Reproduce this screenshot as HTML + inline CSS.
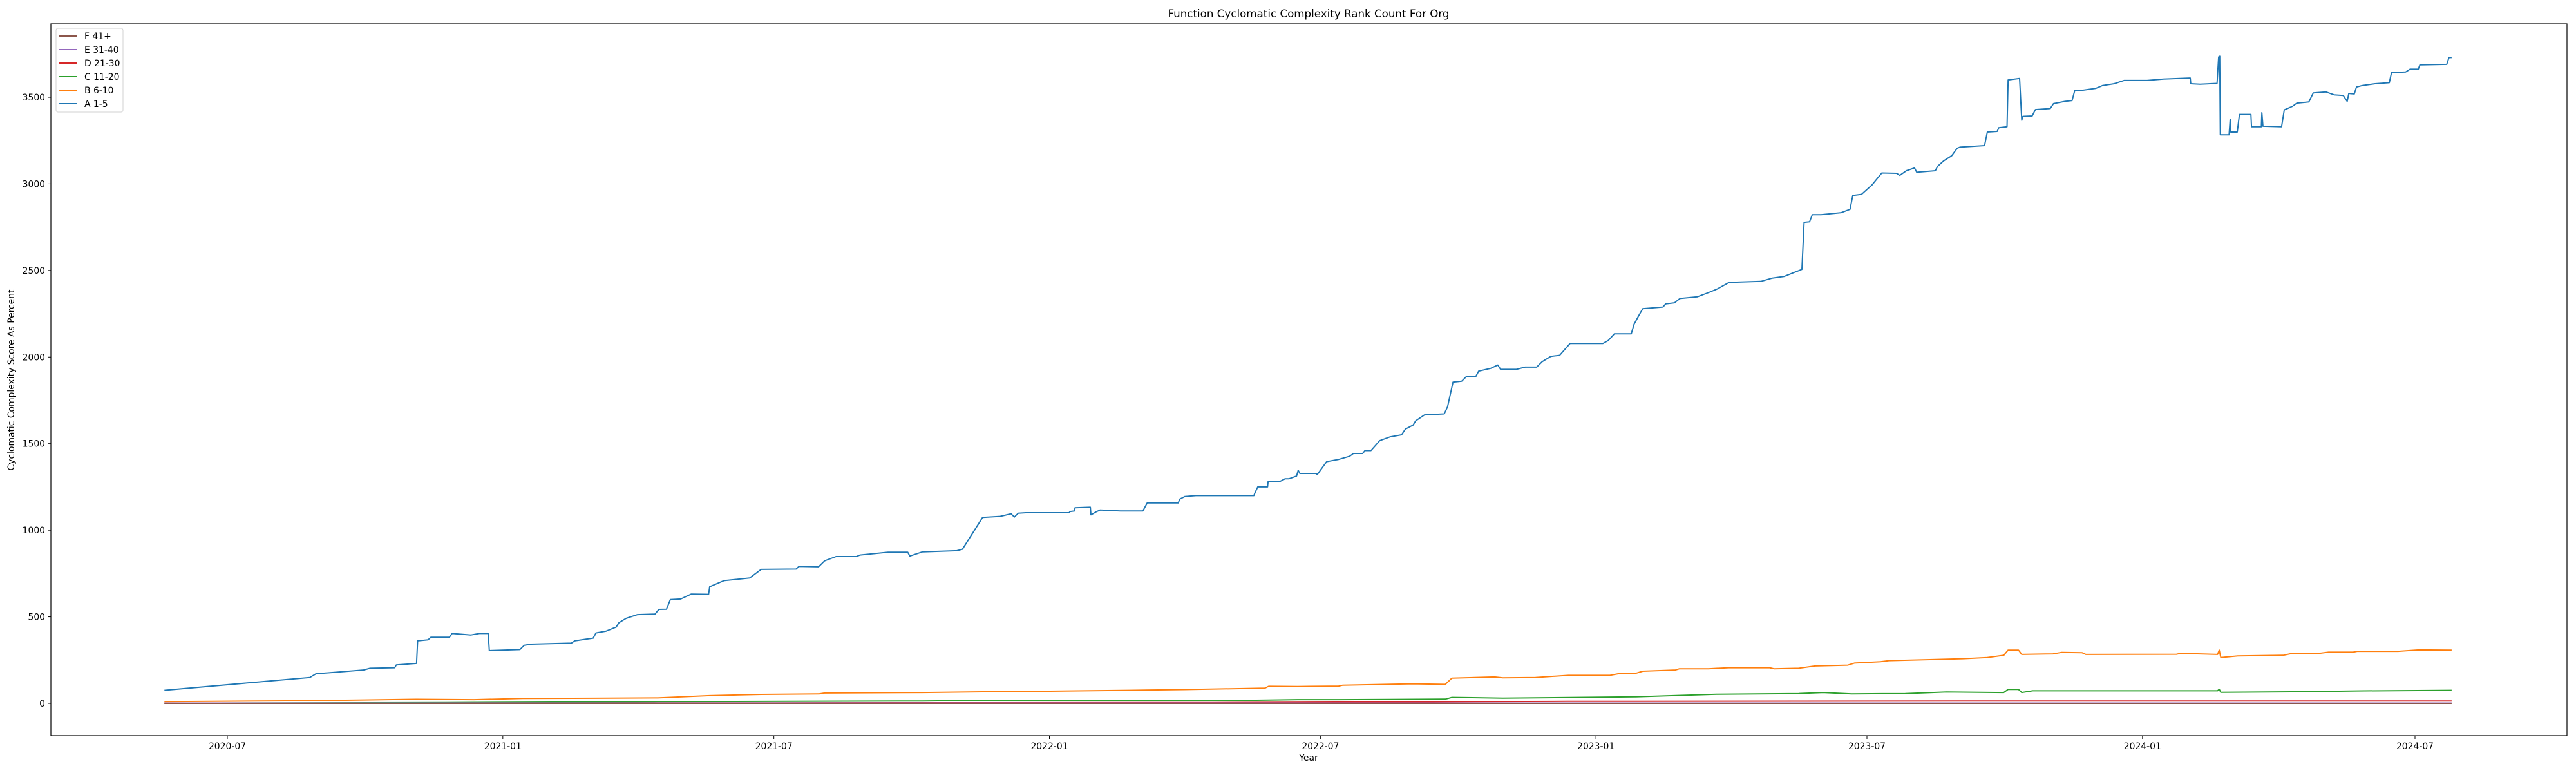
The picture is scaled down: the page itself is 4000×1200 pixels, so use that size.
<!DOCTYPE html>
<html><head><meta charset="utf-8"><style>
html,body{margin:0;padding:0;background:#fff;}
svg{display:block;font-family:"DejaVu Sans","Liberation Sans",sans-serif;}
</style></head><body>
<svg id="chart" width="4000" height="1200" xmlns="http://www.w3.org/2000/svg">
<rect width="4000" height="1200" fill="#fff"/>
<text x="2032" y="27" font-size="16.7" text-anchor="middle">Function Cyclomatic Complexity Rank Count For Org</text>
<text x="2032" y="1181" font-size="13.9" text-anchor="middle">Year</text>
<text transform="translate(22,590) rotate(-90)" font-size="13.9" text-anchor="middle">Cyclomatic Complexity Score As Percent</text>
<g id="plot"></g>
<g id="axes"></g>
<g>
<rect x="87" y="44" width="104" height="130" rx="3" fill="#fff" fill-opacity="0.8" stroke="#d0d0d0" stroke-width="1"/>
<g><line x1="91" x2="120" y1="56" y2="56" stroke="#8c564b" stroke-width="2"/><text x="131" y="61" font-size="13.9">F 41+</text></g>
<g><line x1="91" x2="120" y1="77" y2="77" stroke="#9467bd" stroke-width="2"/><text x="131" y="82" font-size="13.9">E 31-40</text></g>
<g><line x1="91" x2="120" y1="98" y2="98" stroke="#d62728" stroke-width="2"/><text x="131" y="103" font-size="13.9">D 21-30</text></g>
<g><line x1="91" x2="120" y1="119" y2="119" stroke="#2ca02c" stroke-width="2"/><text x="131" y="124" font-size="13.9">C 11-20</text></g>
<g><line x1="91" x2="120" y1="140" y2="140" stroke="#ff7f0e" stroke-width="2"/><text x="131" y="145" font-size="13.9">B 6-10</text></g>
<g><line x1="91" x2="120" y1="161" y2="161" stroke="#1f77b4" stroke-width="2"/><text x="131" y="166" font-size="13.9">A 1-5</text></g>
</g>
</svg>
<script>
const aYears=[2020.385,2020.651,2020.662,2020.749,2020.761,2020.806,2020.809,2020.846,2020.848,2020.867,2020.872,2020.906,2020.911,2020.945,2020.961,2020.977,2020.979,2021.035,2021.043,2021.056,2021.129,2021.135,2021.169,2021.174,2021.192,2021.211,2021.216,2021.229,2021.250,2021.282,2021.289,2021.303,2021.310,2021.329,2021.348,2021.380,2021.382,2021.408,2021.455,2021.476,2021.540,2021.545,2021.581,2021.592,2021.613,2021.650,2021.657,2021.708,2021.744,2021.748,2021.771,2021.834,2021.844,2021.881,2021.913,2021.933,2021.939,2021.946,2021.960,2022.039,2022.041,2022.049,2022.050,2022.078,2022.079,2022.088,2022.096,2022.133,2022.174,2022.182,2022.239,2022.241,2022.251,2022.271,2022.377,2022.379,2022.384,2022.402,2022.403,2022.424,2022.434,2022.441,2022.455,2022.458,2022.461,2022.490,2022.493,2022.498,2022.510,2022.531,2022.552,2022.559,2022.576,2022.580,2022.591,2022.607,2022.626,2022.647,2022.654,2022.668,2022.673,2022.689,2022.725,2022.731,2022.741,2022.757,2022.765,2022.783,2022.788,2022.810,2022.823,2022.828,2022.857,2022.873,2022.894,2022.904,2022.920,2022.936,2022.955,2023.015,2023.025,2023.036,2023.067,2023.072,2023.081,2023.088,2023.125,2023.130,2023.146,2023.156,2023.188,2023.209,2023.225,2023.246,2023.304,2023.325,2023.346,2023.379,2023.383,2023.393,2023.398,2023.414,2023.451,2023.467,2023.472,2023.488,2023.507,2023.514,2023.525,2023.552,2023.558,2023.570,2023.585,2023.589,2023.623,2023.627,2023.638,2023.653,2023.663,2023.668,2023.713,2023.718,2023.736,2023.739,2023.754,2023.756,2023.777,2023.781,2023.783,2023.800,2023.806,2023.833,2023.839,2023.860,2023.873,2023.878,2023.893,2023.916,2023.929,2023.950,2023.968,2024.010,2024.040,2024.089,2024.090,2024.107,2024.138,2024.141,2024.143,2024.144,2024.160,2024.162,2024.163,2024.175,2024.179,2024.200,2024.201,2024.219,2024.220,2024.222,2024.256,2024.261,2024.276,2024.284,2024.306,2024.314,2024.337,2024.352,2024.369,2024.376,2024.379,2024.389,2024.393,2024.404,2024.427,2024.453,2024.457,2024.483,2024.491,2024.506,2024.509,2024.558,2024.562,2024.567];
const aValues=[76,150,171,193,203,206,222,231,361,367,382,382,404,395,404,404,305,311,336,342,348,361,377,407,417,441,466,491,513,516,543,544,600,603,631,630,674,709,724,774,776,791,789,823,848,848,857,873,873,851,875,882,890,1074,1080,1095,1076,1098,1101,1101,1108,1111,1130,1133,1089,1105,1117,1111,1111,1158,1158,1179,1195,1200,1200,1216,1250,1250,1281,1281,1297,1297,1313,1346,1328,1328,1322,1344,1396,1408,1427,1443,1443,1460,1460,1517,1539,1551,1584,1607,1632,1666,1672,1712,1855,1861,1886,1889,1919,1935,1954,1929,1929,1942,1942,1973,2004,2010,2078,2078,2096,2134,2134,2189,2241,2279,2289,2307,2313,2338,2348,2373,2394,2431,2437,2456,2465,2506,2778,2781,2822,2822,2834,2853,2933,2940,2993,3020,3063,3061,3049,3076,3092,3067,3076,3101,3132,3163,3206,3212,3221,3299,3303,3324,3330,3600,3609,3367,3390,3392,3429,3435,3463,3476,3481,3541,3541,3551,3568,3578,3597,3597,3605,3611,3578,3575,3580,3733,3737,3283,3283,3373,3299,3299,3401,3401,3330,3330,3411,3333,3330,3427,3448,3466,3473,3525,3531,3514,3510,3476,3522,3519,3559,3568,3578,3584,3642,3646,3662,3662,3687,3690,3729,3729];
const bYears=[2020.385,2020.656,2020.751,2020.846,2020.951,2021.040,2021.171,2021.287,2021.382,2021.476,2021.582,2021.592,2021.771,2021.881,2021.968,2022.150,2022.250,2022.322,2022.397,2022.404,2022.457,2022.532,2022.539,2022.667,2022.727,2022.739,2022.817,2022.832,2022.892,2022.952,2023.028,2023.043,2023.073,2023.088,2023.148,2023.155,2023.208,2023.245,2023.320,2023.328,2023.373,2023.403,2023.463,2023.475,2023.523,2023.538,2023.613,2023.673,2023.718,2023.748,2023.756,2023.775,2023.781,2023.838,2023.854,2023.891,2023.898,2024.064,2024.071,2024.139,2024.142,2024.145,2024.176,2024.259,2024.274,2024.327,2024.342,2024.387,2024.394,2024.469,2024.507,2024.567];
const bValues=[10,16,20,24,22,29,30,32,45,52,55,60,63,67,69,76,80,84,88,99,98,100,105,113,110,146,153,148,150,162,162,171,172,186,193,200,200,206,206,200,203,216,221,233,241,247,253,258,265,278,308,308,283,286,295,293,283,284,289,283,308,265,274,278,288,290,296,296,301,301,309,308];
const cYears=[2020.385,2020.9,2021.287,2021.771,2021.881,2022.322,2022.457,2022.532,2022.727,2022.739,2022.832,2023.073,2023.223,2023.373,2023.418,2023.470,2023.568,2023.643,2023.748,2023.756,2023.775,2023.781,2023.801,2023.974,2024.139,2024.142,2024.145,2024.274,2024.394,2024.567];
const cValues=[1,5,10,14,18,16,22,22,25,35,31,38,53,57,63,55,57,66,63,81,81,63,73,73,73,82,64,67,72,76];
const dYears=[2020.385,2021.5,2022.3,2022.95,2023.7,2024.567];
const dValues=[1,3,5,12,14,14];
const eYears=[2020.385,2024.567];
const eValues=[2,2];
const fYears=[2020.385,2024.567];
const fValues=[0,0];
const yTicks=[0,500,1000,1500,2000,2500,3000,3500];
const xTickLabels=["2020-07","2021-01","2021-07","2022-01","2022-07","2023-01","2023-07","2024-01","2024-07"];

const NS="http://www.w3.org/2000/svg";
const L=79,R=3986,T=37,B=1142;
const X0=2020.5, PX0=353, PXY=849.25;
function xScale(yr){return PX0+(yr-X0)*PXY;}
function yScale(v){return 1092-v*0.26886;}
function dateToYear(s){const p=s.split('-');const d=new Date(Date.UTC(+p[0],+p[1]-1,1));return X0+(d-Date.UTC(2020,6,1))/86400000/365.25;}

const plot=document.getElementById('plot');
const axes=document.getElementById('axes');
const clip=document.createElementNS(NS,'clipPath');clip.setAttribute('id','clp');
const cr=document.createElementNS(NS,'rect');cr.setAttribute('x',L);cr.setAttribute('y',T);cr.setAttribute('width',R-L);cr.setAttribute('height',B-T);
clip.appendChild(cr);document.getElementById('chart').appendChild(clip);
plot.setAttribute('clip-path','url(#clp)');

function drawSeries(xs,vs,color,name){
  let d='';
  for(let i=0;i<xs.length;i++){d+=(i?'L':'M')+xScale(xs[i]).toFixed(1)+' '+yScale(vs[i]).toFixed(1);}
  const p=document.createElementNS(NS,'path');
  p.setAttribute('d',d);p.setAttribute('fill','none');p.setAttribute('stroke',color);
  p.setAttribute('stroke-width','2');p.setAttribute('stroke-linejoin','round');
  
  
  plot.appendChild(p);
}
drawSeries(aYears,aValues,'#1f77b4','series-a-1-5');
drawSeries(bYears,bValues,'#ff7f0e','series-b-6-10');
drawSeries(cYears,cValues,'#2ca02c','series-c-11-20');
drawSeries(dYears,dValues,'#d62728','series-d-21-30');
drawSeries(eYears,eValues,'#9467bd','series-e-31-40');
drawSeries(fYears,fValues,'#8c564b','series-f-41-plus');

const frame=document.createElementNS(NS,'rect');
frame.setAttribute('x',L);frame.setAttribute('y',T);frame.setAttribute('width',R-L);frame.setAttribute('height',B-T);
frame.setAttribute('fill','none');frame.setAttribute('stroke','#000');frame.setAttribute('stroke-width','1.2');


axes.appendChild(frame);

yTicks.forEach(v=>{
  const y=yScale(v);
  const t=document.createElementNS(NS,'line');
  t.setAttribute('x1',L-5);t.setAttribute('x2',L);t.setAttribute('y1',y);t.setAttribute('y2',y);t.setAttribute('stroke','#000');
  
  
  axes.appendChild(t);
  const tx=document.createElementNS(NS,'text');
  tx.setAttribute('x',L-9);tx.setAttribute('y',y+5);tx.setAttribute('font-size','13.9');tx.setAttribute('text-anchor','end');
  tx.textContent=String(v);
  
  
  axes.appendChild(tx);
});
xTickLabels.forEach(s=>{
  const x=xScale(dateToYear(s));
  const t=document.createElementNS(NS,'line');
  t.setAttribute('x1',x);t.setAttribute('x2',x);t.setAttribute('y1',B);t.setAttribute('y2',B+5);t.setAttribute('stroke','#000');
  
  
  axes.appendChild(t);
  const tx=document.createElementNS(NS,'text');
  tx.setAttribute('x',x);tx.setAttribute('y',B+21);tx.setAttribute('font-size','13.9');tx.setAttribute('text-anchor','middle');
  tx.textContent=s;
  
  
  axes.appendChild(tx);
});
</script>
</body></html>
